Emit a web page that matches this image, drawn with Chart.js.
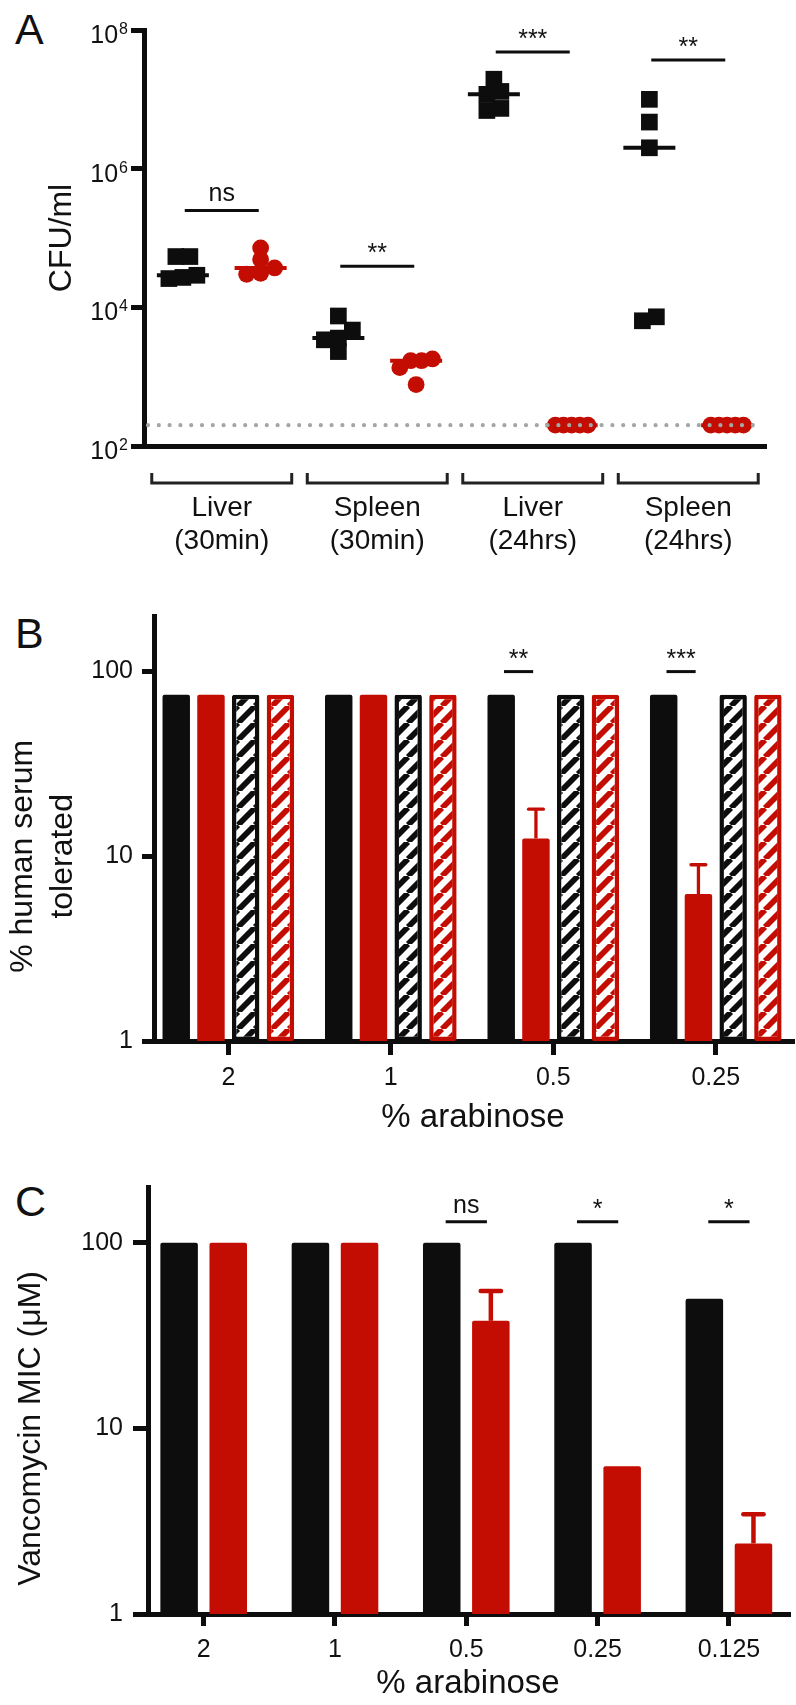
<!DOCTYPE html>
<html>
<head>
<meta charset="utf-8">
<script src="https://cdn.jsdelivr.net/npm/chart.js@4.4.1/dist/chart.umd.min.js"></script>
<style>
  html, body { margin: 0; padding: 0; background: #fff; }
  #page { position: relative; width: 796px; height: 1705px; overflow: hidden; font-family: "Liberation Sans", Arial, Helvetica, sans-serif; }
  canvas { position: absolute; left: 0; }
  .letter { position: absolute; left: 15px; font-size: 43px; line-height: 1; color: #111; }
</style>
</head>
<body>
<div id="page">
  <div class="letter" style="top:8px">A</div>
  <div class="letter" style="top:612px">B</div>
  <div class="letter" style="top:1180px">C</div>
  <canvas id="chartA" width="796" height="570" style="top:0"></canvas>
  <canvas id="chartB" width="796" height="570" style="top:570px"></canvas>
  <canvas id="chartC" width="796" height="565" style="top:1140px"></canvas>
</div>
<script>
const BLACK = '#0c0d0c', RED = '#c40d02', DOT = '#a3a7a6', INK = '#111';
const FONT = '"Liberation Sans", Arial, Helvetica, sans-serif';

// --- A: CFU/ml per organ and time point (black = WT squares, red = mutant circles)
const organLabels = [['Liver', '(30min)'], ['Spleen', '(30min)'], ['Liver', '(24hrs)'], ['Spleen', '(24hrs)']];
const wtCfu = [
  [5.4e4, 5.4e4, 2.9e4, 2.7e4, 2.6e4],
  [7.5e3, 4.7e3, 3.6e3, 3.4e3, 2.3e3],
  [1.95e7, 1.3e7, 1.18e7, 7.4e6, 6.9e6],
  [1.0e7, 4.7e6, 2.0e6, 7.3e3, 6.4e3]
];
const mutCfu = [
  [7.2e4, 4.9e4, 3.7e4, 3.1e4, 3.0e4],
  [1.8e3, 1.7e3, 1.7e3, 1.35e3, 7.7e2],
  [200, 200, 200, 200, 200],
  [200, 200, 200, 200, 200]
];
const detectionLimit = 200;
const cfuTicks = [1e2, 1e4, 1e6, 1e8];
const sigA = ['ns', '**', '***', '**'];
const sigHeightA = [2.5e5, 3.9e4, 4.8e7, 3.7e7];

// --- B: % human serum tolerated
const doseB = ['2', '1', '0.5', '0.25'];
const serumWt = [75, 75, 75, 75];
const serumMut = [75, 75, 12.5, 6.25];
const serumMutErr = [0, 0, 5.5, 2.75];
const serumWtCtrl = [75, 75, 75, 75];
const serumMutCtrl = [75, 75, 75, 75];
const sigB = ['', '', '**', '***'];

// --- C: vancomycin MIC
const doseC = ['2', '1', '0.5', '0.25', '0.125'];
const micWt = [100, 100, 100, 100, 50];
const micMut = [100, 100, 38, 6.25, 2.4];
const micMutErr = [0, 0, 17, 0, 1.05];
const sigC = ['', '', 'ns', '*', '*'];

const logTicks = [1, 10, 100];

Chart.defaults.font.family = FONT;
Chart.defaults.color = INK;

function median(arr) {
  const s = [...arr].sort((a, b) => a - b);
  const m = Math.floor(s.length / 2);
  return s.length % 2 ? s[m] : (s[m - 1] + s[m]) / 2;
}

// spread points with nearly equal values sideways, like a column scatter plot
function swarm(values, center) {
  const idx = values.map((v, i) => i).sort((a, b) => values[a] - values[b]);
  const offs = new Array(values.length).fill(0);
  let row = [];
  const flush = () => {
    const step = Math.min(0.18, 0.42 / Math.max(1, row.length - 1));
    row.forEach((k, j) => { offs[k] = (j - (row.length - 1) / 2) * step; });
    row = [];
  };
  idx.forEach(k => {
    if (row.length && Math.log10(values[k]) - Math.log10(values[row[0]]) > 0.15) flush();
    row.push(k);
  });
  flush();
  return values.map((v, i) => ({ x: center + offs[i], y: v }));
}

function rotatedText(ctx, lines, xs, yc, size) {
  ctx.save();
  ctx.font = size + 'px ' + FONT;
  ctx.fillStyle = INK;
  ctx.textAlign = 'center';
  ctx.textBaseline = 'alphabetic';
  lines.forEach((t, i) => {
    ctx.save();
    ctx.translate(xs[i], yc);
    ctx.rotate(-Math.PI / 2);
    ctx.fillText(t, 0, 0);
    ctx.restore();
  });
  ctx.restore();
}

function sigBar(ctx, xm, half, yl, text) {
  ctx.save();
  ctx.strokeStyle = BLACK;
  ctx.lineWidth = 3;
  ctx.beginPath();
  ctx.moveTo(xm - half, yl);
  ctx.lineTo(xm + half, yl);
  ctx.stroke();
  ctx.fillStyle = INK;
  ctx.font = '25px ' + FONT;
  ctx.textAlign = 'center';
  ctx.textBaseline = 'alphabetic';
  ctx.fillText(text, xm, yl - (text === 'ns' ? 9 : 5));
  ctx.restore();
}

// ================= Panel A =================
const wtPts = [], mutPts = [], wtMed = [], mutMed = [];
wtCfu.forEach((vals, g) => { wtPts.push(...swarm(vals, 2 * g)); wtMed.push({ x: 2 * g, y: median(vals) }); });
mutCfu.forEach((vals, g) => { mutPts.push(...swarm(vals, 2 * g + 1)); mutMed.push({ x: 2 * g + 1, y: median(vals) }); });

const panelAExtras = {
  id: 'panelAExtras',
  afterDatasetsDraw(chart) {
    const { ctx, chartArea: a, scales: { y } } = chart;
    const yl = y.getPixelForValue(detectionLimit);
    ctx.save();
    ctx.strokeStyle = DOT;
    ctx.lineWidth = 4.2;
    ctx.lineCap = 'round';
    ctx.setLineDash([0, 10.8]);
    ctx.beginPath();
    ctx.moveTo(a.left + 4, yl);
    ctx.lineTo(a.right - 8, yl);
    ctx.stroke();
    ctx.restore();
  },
  afterDraw(chart) {
    const { ctx, chartArea: a, scales: { x, y } } = chart;
    ctx.save();
    ctx.fillStyle = INK;
    ctx.textAlign = 'right';
    ctx.textBaseline = 'alphabetic';
    cfuTicks.forEach(v => {
      const py = y.getPixelForValue(v);
      const exp = String(Math.round(Math.log10(v)));
      ctx.font = '16px ' + FONT;
      const ws = ctx.measureText(exp).width;
      ctx.fillText(exp, 128, py + 4);
      ctx.font = '25px ' + FONT;
      ctx.fillText('10', 127 - ws, py + 13);
    });
    ctx.restore();

    rotatedText(ctx, ['CFU/ml'], [71], (a.top + a.bottom) / 2, 32);

    organLabels.forEach((lab, g) => {
      const x0 = x.getPixelForValue(2 * g), x1 = x.getPixelForValue(2 * g + 1);
      sigBar(ctx, (x0 + x1) / 2, 37, y.getPixelForValue(sigHeightA[g]), sigA[g]);

      const bl = x.getPixelForValue(2 * g - 0.4), br = x.getPixelForValue(2 * g + 1.4);
      ctx.save();
      ctx.strokeStyle = '#222';
      ctx.lineWidth = 3;
      ctx.beginPath();
      ctx.moveTo(bl, a.bottom + 27);
      ctx.lineTo(bl, a.bottom + 37);
      ctx.lineTo(br, a.bottom + 37);
      ctx.lineTo(br, a.bottom + 27);
      ctx.stroke();
      ctx.fillStyle = INK;
      ctx.font = '28px ' + FONT;
      ctx.textAlign = 'center';
      ctx.textBaseline = 'middle';
      ctx.fillText(lab[0], (bl + br) / 2, a.bottom + 62);
      ctx.fillText(lab[1], (bl + br) / 2, a.bottom + 95);
      ctx.restore();
    });
  }
};

new Chart(document.getElementById('chartA'), {
  type: 'scatter',
  data: {
    datasets: [
      { data: wtMed, pointStyle: 'line', pointRadius: 26, pointBorderWidth: 4, pointBorderColor: BLACK, pointBackgroundColor: BLACK },
      { data: mutMed, pointStyle: 'line', pointRadius: 26, pointBorderWidth: 4, pointBorderColor: RED, pointBackgroundColor: RED },
      { data: wtPts, pointStyle: 'rect', pointRadius: 11.8, pointBorderWidth: 0, pointBackgroundColor: BLACK },
      { data: mutPts, pointStyle: 'circle', pointRadius: 8.4, pointBorderWidth: 0, pointBackgroundColor: RED }
    ]
  },
  options: {
    responsive: false,
    animation: false,
    layout: { padding: { top: 27, right: 22, left: 0, bottom: 0 } },
    plugins: { legend: { display: false }, tooltip: { enabled: false } },
    scales: {
      x: {
        type: 'linear', min: -0.5, max: 7.5, offset: false,
        afterFit: s => { s.height = 124; },
        grid: { display: false },
        ticks: { display: false },
        border: { color: BLACK, width: 5 }
      },
      y: {
        type: 'logarithmic', min: 1e2, max: 1e8,
        afterBuildTicks: ax => { ax.ticks = cfuTicks.map(v => ({ value: v })); },
        afterFit: s => { s.width = 144; },
        ticks: { display: false },
        grid: { drawOnChartArea: false, tickLength: 13, tickWidth: 5, tickColor: BLACK, lineWidth: 5 },
        border: { color: BLACK, width: 5 }
      }
    }
  },
  plugins: [panelAExtras]
});

// ================= Panels B and C =================
function toXY(vals) { return vals.map((v, i) => ({ x: i, y: v })); }

function hatch(color) {
  const n = 17;
  const c = document.createElement('canvas');
  c.width = c.height = n;
  const g = c.getContext('2d');
  g.fillStyle = '#fff';
  g.fillRect(0, 0, n, n);
  g.strokeStyle = color;
  g.lineWidth = 5.8;
  g.beginPath();
  [-n, 0, n].forEach(o => { g.moveTo(o, n); g.lineTo(o + n, 0); });
  g.stroke();
  return g.createPattern(c, 'repeat');
}

function barExtras(cfg) {
  return {
    id: 'barExtras',
    afterDatasetsDraw(chart) {
      const { ctx, scales: { y } } = chart;
      chart.data.datasets.forEach((ds, di) => {
        if (!ds.errors) return;
        chart.getDatasetMeta(di).data.forEach((bar, i) => {
          const err = ds.errors[i];
          if (!err) return;
          const top = y.getPixelForValue(ds.data[i].y + err);
          const lw = Math.max(3, bar.width * 0.12);
          ctx.save();
          ctx.strokeStyle = ds.backgroundColor;
          ctx.lineWidth = lw;
          ctx.beginPath();
          ctx.moveTo(bar.x, bar.y);
          ctx.lineTo(bar.x, top);
          ctx.stroke();
          ctx.lineCap = 'round';
          ctx.beginPath();
          ctx.moveTo(bar.x - bar.width * 0.27, top);
          ctx.lineTo(bar.x + bar.width * 0.27, top);
          ctx.stroke();
          ctx.restore();
        });
      });
    },
    afterDraw(chart) {
      const { ctx, scales: { y } } = chart;
      const wt = chart.getDatasetMeta(0).data, mut = chart.getDatasetMeta(1).data;
      cfg.sig.forEach((s, i) => {
        if (!s) return;
        const d = mut[i].x - wt[i].x;
        sigBar(ctx, (wt[i].x + mut[i].x) / 2, d * 0.42, y.getPixelForValue(cfg.sigLevel), s);
      });
      const yc = (y.getPixelForValue(1) + y.getPixelForValue(100)) / 2;
      rotatedText(ctx, cfg.titleLines, cfg.titleXs, yc, 32);
    }
  };
}

function barChart(id, cfg) {
  return new Chart(document.getElementById(id), {
    type: 'bar',
    data: { datasets: cfg.datasets },
    options: {
      responsive: false,
      animation: false,
      layout: { padding: cfg.padding },
      datasets: { bar: { categoryPercentage: cfg.catPct, barPercentage: cfg.barPct, borderRadius: 2 } },
      plugins: { legend: { display: false }, tooltip: { enabled: false } },
      scales: {
        x: {
          type: 'linear', min: cfg.xMin, max: cfg.xMax, offset: false, z: 1,
          afterBuildTicks: ax => { ax.ticks = cfg.doses.map((d, i) => ({ value: i })); },
          afterFit: s => { s.height = cfg.xHeight; },
          ticks: { callback: v => cfg.doses[v], font: { size: 25 }, color: INK, padding: cfg.xTickPad, maxRotation: 0, autoSkip: false },
          grid: { offset: false, drawOnChartArea: false, tickLength: cfg.xTickLen, tickWidth: 5, tickColor: BLACK, lineWidth: 5 },
          border: { color: BLACK, width: 5 },
          title: { display: true, text: '% arabinose', font: { size: 33 }, color: INK, padding: { top: 0, bottom: cfg.xTitlePad } }
        },
        y: {
          type: 'logarithmic', min: 1, max: 200, z: 1,
          afterBuildTicks: ax => { ax.ticks = logTicks.map(v => ({ value: v })); },
          afterFit: s => { s.width = cfg.yWidth; },
          ticks: { callback: v => String(v), font: { size: 25 }, color: INK, padding: cfg.yTickPad },
          grid: { drawOnChartArea: false, tickLength: cfg.yTickLen, tickWidth: 5, tickColor: BLACK, lineWidth: 5 },
          border: { color: BLACK, width: 5 }
        }
      }
    },
    plugins: [barExtras(cfg)]
  });
}

barChart('chartB', {
  doses: doseB,
  datasets: [
    { data: toXY(serumWt), backgroundColor: BLACK },
    { data: toXY(serumMut), backgroundColor: RED, errors: serumMutErr },
    { data: toXY(serumWtCtrl), backgroundColor: hatch(BLACK), borderColor: BLACK, borderWidth: 4.5, borderSkipped: false },
    { data: toXY(serumMutCtrl), backgroundColor: hatch(RED), borderColor: RED, borderWidth: 4.5, borderSkipped: false }
  ],
  padding: { top: 46, right: 4, left: 0, bottom: 0 },
  yWidth: 154, xHeight: 99, yTickLen: 12, yTickPad: 9, xTickLen: 14, xTickPad: 8, xTitlePad: 2,
  xMin: -0.4575, xMax: 3.469, catPct: 0.855, barPct: 0.79,
  sig: sigB, sigLevel: 100,
  titleLines: ['% human serum', 'tolerated'], titleXs: [32, 72]
});

barChart('chartC', {
  doses: doseC,
  datasets: [
    { data: toXY(micWt), backgroundColor: BLACK },
    { data: toXY(micMut), backgroundColor: RED, errors: micMutErr }
  ],
  padding: { top: 47, right: 8, left: 0, bottom: 0 },
  yWidth: 148, xHeight: 91, yTickLen: 15, yTickPad: 10, xTickLen: 12, xTickPad: 9, xTitlePad: 1,
  xMin: -0.424, xMax: 4.45, catPct: 0.748, barPct: 0.764,
  sig: sigC, sigLevel: 130,
  titleLines: ['Vancomycin MIC (μM)'], titleXs: [40]
});
</script>
</body>
</html>
